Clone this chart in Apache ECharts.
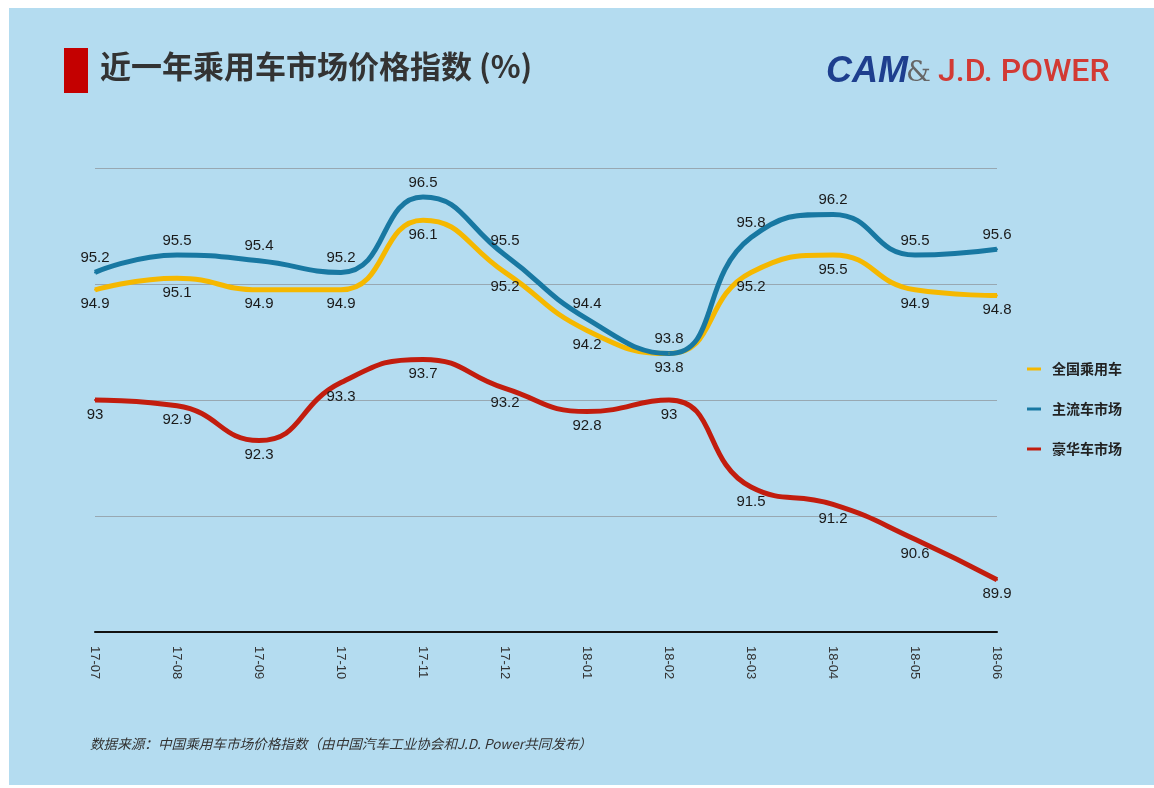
<!DOCTYPE html>
<html><head><meta charset="utf-8">
<script src="https://cdn.jsdelivr.net/npm/echarts@6/dist/echarts.min.js"></script>
<style>html,body{margin:0;padding:0;background:#fff}#c{width:1154px;height:788px}</style>
</head><body><div id="c"></div>
<script>
const categories = ['17-07','17-08','17-09','17-10','17-11','17-12','18-01','18-02','18-03','18-04','18-05','18-06'];
const seriesNames = ['全国乘用车','主流车市场','豪华车市场'];
const nationalValues = [94.9, 95.1, 94.9, 94.9, 96.1, 95.2, 94.2, 93.8, 95.2, 95.5, 94.9, 94.8];
const mainstreamValues = [95.2, 95.5, 95.4, 95.2, 96.5, 95.5, 94.4, 93.8, 95.8, 96.2, 95.5, 95.6];
const luxuryValues = [93, 92.9, 92.3, 93.3, 93.7, 93.2, 92.8, 93, 91.5, 91.2, 90.6, 89.9];
const yMin = 89, yMax = 97, yStep = 2;
const titleText = '近一年乘用车市场价格指数 (%)';
const sourceText = '数据来源：中国乘用车市场价格指数（由中国汽车工业协会和J.D. Power共同发布）';

const chart = echarts.init(document.getElementById('c'));
const labelStyle = {show: true, fontSize: 15, color: '#1a1a1a', fontFamily: 'Liberation Sans, Arial, sans-serif', distance: 6};
function mk(name, data, color, pos) {
  return {
    name, type: 'line', data, smooth: 0.5, symbol: 'circle', symbolSize: 2,
    itemStyle: {color}, lineStyle: {color, width: 5},
    label: Object.assign({}, labelStyle, {position: pos}),
    emphasis: {disabled: true}, z: 3
  };
}
chart.setOption({
  backgroundColor: '#ffffff',
  animation: false,
  graphic: [
    {type: 'rect', left: 9, top: 8, shape: {width: 1145, height: 777}, style: {fill: '#b4dcf0'}, z: -10},
    {type: 'rect', left: 64, top: 48, shape: {width: 24, height: 45}, style: {fill: '#c40000'}},
    {type: 'text', left: 100, top: 51, style: {text: titleText, fontSize: 31, fontWeight: 'bold', fill: '#333333', fontFamily: 'Noto Sans CJK SC'}},
    {type: 'text', left: 826, top: 54, style: {text: 'CAM', fontSize: 36, fontWeight: 'bold', fontStyle: 'italic', fill: '#1e3f8e', fontFamily: 'Liberation Sans'}},
    {type: 'text', left: 906, top: 60, style: {text: '&', fontSize: 28, fill: '#666666', fontFamily: 'DejaVu Serif'}},
    {type: 'text', left: 938, top: 57, style: {text: 'J.D. POWER', fontSize: 32, fontWeight: 500, fill: '#d23a34', fontFamily: 'Roboto'}},
    {type: 'text', left: 90, top: 737, style: {text: sourceText, fontSize: 13.6, fontStyle: 'italic', fill: '#333333', fontFamily: 'Noto Sans CJK SC'}}
  ],
  grid: {left: 95, right: 157, top: 168, bottom: 156, containLabel: false},
  legend: {
    orient: 'vertical', left: 1022, top: 357, itemGap: 26, icon: 'rect', itemWidth: 14, itemHeight: 3,
    data: seriesNames,
    textStyle: {fontSize: 14, color: '#222', fontFamily: 'Noto Sans CJK SC', fontWeight: 'bold', padding: [0, 0, 0, 6]}
  },
  xAxis: {
    type: 'category', data: categories, boundaryGap: false,
    axisLine: {lineStyle: {color: '#111', width: 2}},
    axisTick: {show: false},
    axisLabel: {rotate: -90, margin: 14, fontSize: 13, color: '#333', fontFamily: 'Liberation Sans, Arial, sans-serif'},
    splitLine: {show: false}
  },
  yAxis: {
    type: 'value', min: yMin, max: yMax, interval: yStep,
    axisLine: {show: false}, axisTick: {show: false}, axisLabel: {show: false},
    splitLine: {lineStyle: {color: '#98a8b2', width: 1}}
  },
  series: [
    mk(seriesNames[0], nationalValues, '#f5b800', 'bottom'),
    mk(seriesNames[1], mainstreamValues, '#1878a2', 'top'),
    mk(seriesNames[2], luxuryValues, '#c21d0e', 'bottom')
  ]
});
</script></body></html>
